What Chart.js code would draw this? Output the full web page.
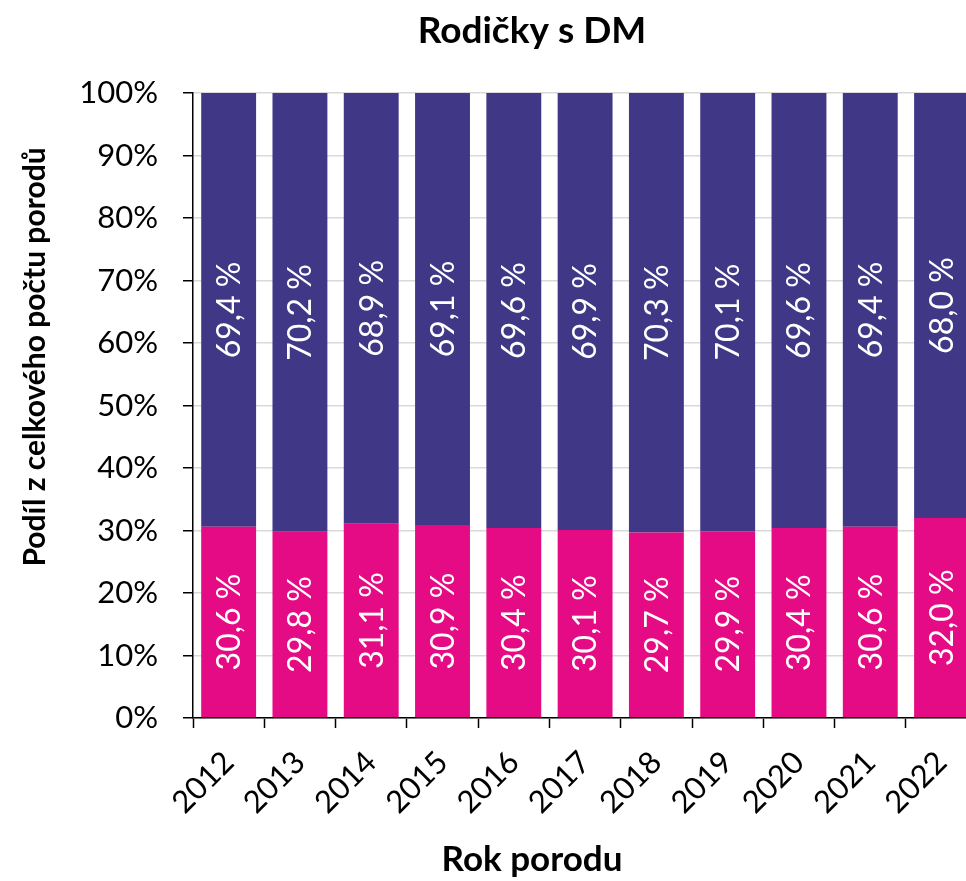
<!DOCTYPE html>
<html>
<head>
<meta charset="utf-8">
<script src="https://cdn.jsdelivr.net/npm/chart.js@4"></script>
<style>
  html, body { margin: 0; padding: 0; background: #fff; overflow: hidden; }
  #wrap { width: 984px; height: 881px; }
</style>
</head>
<body>
<div id="wrap"><canvas id="chart" width="984" height="881"></canvas></div>
<script>
// Data
const years = ['2012', '2013', '2014', '2015', '2016', '2017', '2018', '2019', '2020', '2021', '2022'];
const dmShare = [30.6, 29.8, 31.1, 30.9, 30.4, 30.1, 29.7, 29.9, 30.4, 30.6, 32.0];
const otherShare = [69.4, 70.2, 68.9, 69.1, 69.6, 69.9, 70.3, 70.1, 69.6, 69.4, 68.0];
const yTicks = [0, 10, 20, 30, 40, 50, 60, 70, 80, 90, 100];

const FONT = 'Lato, "Open Sans", sans-serif';

// rotated value labels inside bars + titles at fixed spots
const labelsPlugin = {
  id: 'barLabels',
  afterDatasetsDraw(chart) {
    const ctx = chart.ctx;
    ctx.save();
    ctx.fillStyle = '#fff';
    ctx.font = '32px ' + FONT;
    ctx.textAlign = 'center';
    ctx.textBaseline = 'middle';
    chart.data.datasets.forEach((ds, i) => {
      chart.getDatasetMeta(i).data.forEach((bar, j) => {
        const top = Math.min(bar.y, bar.base);
        const bottom = Math.max(bar.y, bar.base);
        const txt = ds.data[j].toFixed(1).replace('.', ',') + ' %';
        ctx.save();
        ctx.translate(bar.x + 1, (top + bottom) / 2);
        ctx.rotate(-Math.PI / 2);
        ctx.fillText(txt, 0, 0);
        ctx.restore();
      });
    });
    ctx.restore();
  },
  afterDraw(chart) {
    const ctx = chart.ctx;
    ctx.save();
    ctx.fillStyle = '#000';
    ctx.textAlign = 'center';
    ctx.textBaseline = 'middle';
    ctx.font = 'bold 37px ' + FONT;
    ctx.fillText('Rodičky s DM', 532, 31);
    ctx.font = 'bold 35px ' + FONT;
    ctx.fillText('Rok porodu', 532, 860);
    ctx.translate(35, 357);
    ctx.rotate(-Math.PI / 2);
    ctx.font = 'bold 30px ' + FONT;
    ctx.fillText('Podíl z celkového počtu porodů', 0, 0);
    ctx.restore();
  }
};

new Chart(document.getElementById('chart'), {
  type: 'bar',
  data: {
    labels: years,
    datasets: [
      { label: 'DM', data: dmShare, backgroundColor: '#E50B84', barPercentage: 0.77, categoryPercentage: 1 },
      { label: 'Ostatní', data: otherShare, backgroundColor: '#403886', barPercentage: 0.77, categoryPercentage: 1 }
    ]
  },
  options: {
    responsive: false,
    animation: false,
    layout: { padding: { top: 93, right: 3, left: 0, bottom: 0 } },
    plugins: { legend: { display: false }, title: { display: false }, tooltip: { enabled: false } },
    scales: {
      x: {
        stacked: true,
        offset: true,
        afterFit(scale) { scale.height = 163; },
        grid: { drawOnChartArea: false, offset: true, drawTicks: true, tickLength: 10, tickColor: '#000', tickWidth: 1.5 },
        border: { color: '#000', width: 1.5 },
        ticks: { color: '#000', font: { family: FONT, size: 31 }, minRotation: 45, maxRotation: 45, padding: 16 }
      },
      y: {
        stacked: true,
        min: 0,
        max: 100,
        afterFit(scale) { scale.width = 193; },
        afterBuildTicks(scale) { scale.ticks = yTicks.map(v => ({ value: v })); },
        grid: { color: '#d9d9d9', lineWidth: 1.5, tickLength: 10, tickColor: '#000', tickWidth: 1.5 },
        border: { color: '#000', width: 1.5 },
        ticks: { color: '#000', font: { family: FONT, size: 31 }, padding: 25, callback: v => v + '%' }
      }
    }
  },
  plugins: [labelsPlugin]
});
</script>
</body>
</html>
